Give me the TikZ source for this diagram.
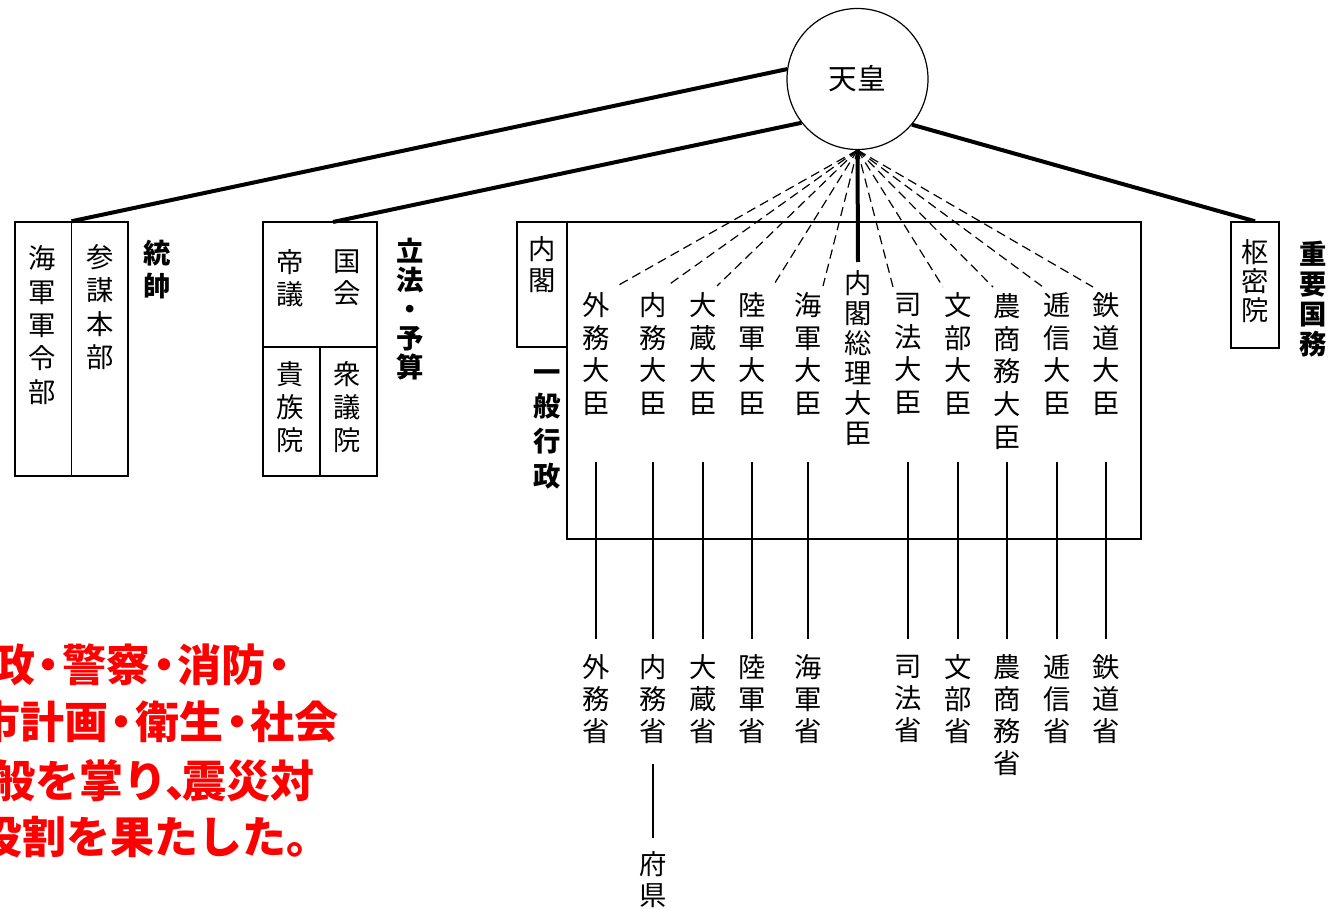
\documentclass[tikz,border=0pt]{standalone}
\usepackage{fontspec}
\newfontfamily\cjk{Noto Sans CJK JP}
\usetikzlibrary{fit}
\newcommand\nkg{\makebox[0.62em]{・}}
\tikzset{
  vt/.style={font=\cjk\fontsize{20.5}{#1}\selectfont, align=center, inner sep=0pt},
  vt/.default=24.5,
  lbl/.style={font=\cjk\bfseries\fontsize{20.5}{#1}\selectfont, align=center, inner sep=0pt},
  lbl/.default=24.5,
  boxline/.style={draw, line width=1.1pt, inner sep=0pt},
  heavy/.style={line width=3pt},
  thinline/.style={line width=0.9pt},
  dsh/.style={dash pattern=on 7pt off 4pt, line width=0.9pt},
  redtxt/.style={font=\cjk\bfseries\fontsize{33}{40}\selectfont, text=red, inner sep=0pt, anchor=west}
}
\begin{document}
\begin{tikzpicture}[x=0.75pt,y=-0.75pt]
\useasboundingbox (0,0) rectangle (1339,909);

% Emperor
\node[draw, circle, line width=0.9pt, minimum size=105.75pt, inner sep=0pt,
      font=\cjk\fontsize{21.5}{24}\selectfont] (tenno) at (857.5,79) {天皇};

% boxes
\node[boxline, fit={(15,222) (128,476)}] (gun) {};
\node[boxline, fit={(263,222) (377,476)}] (gikai) {};
\node[boxline, fit={(517,222) (567,347)}] (naikakubox) {};
\node[boxline, fit={(567,222) (1141,539)}] (cabinet) {};
\node[boxline, fit={(1231,222) (1279,348)}] (sumitsu) {};
\draw[line width=1.1pt] (gun.north) -- (gun.south);
\coordinate (gmid) at (263,347);
\coordinate (gmidR) at (377,347);
\draw[line width=1.1pt] (gmid) -- (gmidR);
\draw[line width=1.1pt] (gikai.south) -- (gikai.south |- gmid);
\coordinate (gikaiTop) at (333,222);

% thick connectors
\draw[heavy] (tenno.172.7) -- (gun.north);
\draw[heavy] (tenno.218.3) -- (gikaiTop);
\draw[heavy] (tenno.320.4) -- (sumitsu.north);

% left texts
\node[vt=25] (kaigun) at (42,325) {海\\軍\\軍\\令\\部};
\node[vt=25] (sanbo) at (100,307) {参\\謀\\本\\部};
\node[lbl=24.75] (tosui) at (157,269.5) {統\\帥};
\node[vt=24] (teigi) at (290,278) {帝\\議};
\node[vt=24] (kokkai) at (347,278) {国\\会};
\node[vt=25] (kizoku) at (290,407) {貴\\族\\院};
\node[vt=25] (shugi) at (347,407) {衆\\議\\院};
\node[lbl=21.75] (rippo) at (410,309) {立\\法\\・\\予\\算};
\node[vt=23.25] (naikaku) at (542,264.5) {内\\閣};
\node[lbl=26] (ippan) at (547,429) {一\\般\\行\\政};
\node[vt=21.75] (sumitsut) at (1255,281) {枢\\密\\院};
\node[lbl=22.5] (juyo) at (1313,299) {重\\要\\国\\務};

% ministers
\node[vt] (m1) at (596,354) {外\\務\\大\\臣};
\node[vt] (m2) at (653,354) {内\\務\\大\\臣};
\node[vt] (m3) at (703,354) {大\\蔵\\大\\臣};
\node[vt] (m4) at (752,354) {陸\\軍\\大\\臣};
\node[vt] (m5) at (808,354) {海\\軍\\大\\臣};
\node[vt=22.5] (m6) at (858,358) {内\\閣\\総\\理\\大\\臣};
\node[vt] (m7) at (908,354) {司\\法\\大\\臣};
\node[vt] (m8) at (958,354) {文\\部\\大\\臣};
\node[vt] (m9) at (1007,371.5) {農\\商\\務\\大\\臣};
\node[vt] (m10) at (1057,354) {逓\\信\\大\\臣};
\node[vt] (m11) at (1106,354) {鉄\\道\\大\\臣};

% dashed end points
\coordinate (d1) at (617,286);
\coordinate (d2) at (667,286);
\coordinate (d3) at (717,286);
\coordinate (d4) at (773,286);
\coordinate (d5) at (823,286);
\coordinate (d7) at (893,287);
\coordinate (d8) at (943,287);
\coordinate (d9) at (993,287);
\coordinate (d10) at (1043,287);
\coordinate (d11) at (1093,287);
\foreach \i in {1,2,3,4,5,7,8,9,10,11} \draw[dsh] (tenno.south) -- (d\i);
\coordinate (vend) at (858,262);
\draw[heavy] (tenno.south) -- (vend);

% ministries
\node[vt=24] (s1) at (596,699) {外\\務\\省};
\node[vt=24] (s2) at (653,699) {内\\務\\省};
\node[vt=24] (s3) at (703,699) {大\\蔵\\省};
\node[vt=24] (s4) at (752,699) {陸\\軍\\省};
\node[vt=24] (s5) at (808,699) {海\\軍\\省};
\node[vt=24] (s7) at (908,699) {司\\法\\省};
\node[vt=24] (s8) at (958,699) {文\\部\\省};
\node[vt=24] (s9) at (1007,715) {農\\商\\務\\省};
\node[vt=24] (s10) at (1057,699) {逓\\信\\省};
\node[vt=24] (s11) at (1106,699) {鉄\\道\\省};
\node[vt=23.25] (fuken) at (653,880) {府\\県};

\coordinate (ltop) at (0,462);
\coordinate (lbot) at (0,639);
\foreach \i in {1,2,3,4,5,7,8,9,10,11} \draw[thinline] (m\i |- ltop) -- (s\i |- lbot);
\coordinate (ftop) at (0,764);
\coordinate (fbot) at (0,838);
\draw[thinline] (s2 |- ftop) -- (fuken |- fbot);

% red note (cut at the left edge, as in the reference)
\node[redtxt] (r1) at (-9,665) {政\nkg 警察\nkg 消防\nkg};
\node[redtxt] (r2) at (-24,722) {市計画\nkg 衛生\nkg 社会};
\node[redtxt] (r3) at (-9,781) {般を掌り\makebox[0.34em][l]{\hspace{-0.04em}、}震災対};
\node[redtxt] (r4) at (-22,837) {役割を果たした。};
\end{tikzpicture}
\end{document}
